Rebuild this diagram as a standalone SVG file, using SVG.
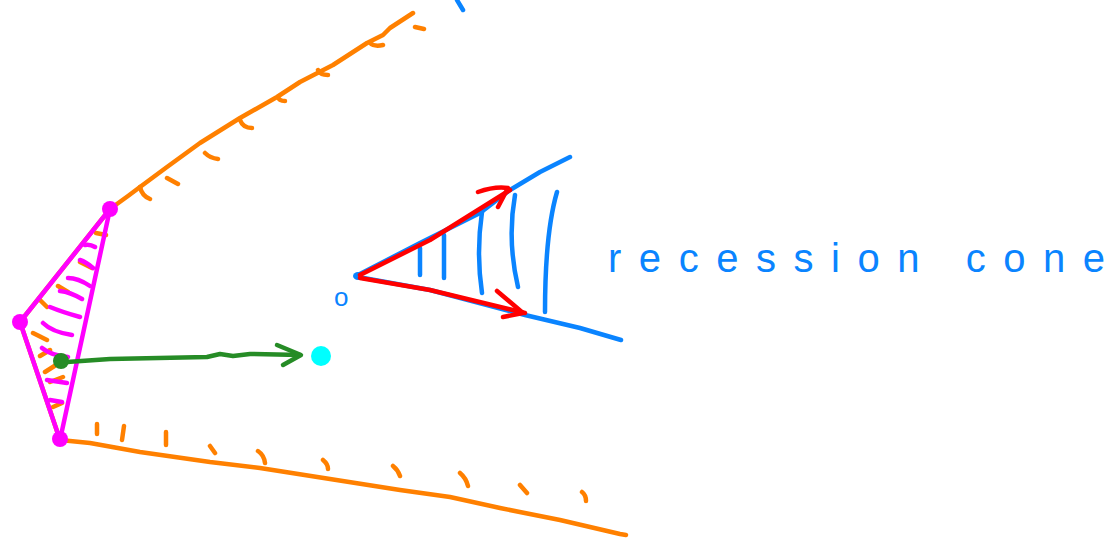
<svg xmlns="http://www.w3.org/2000/svg" width="1120" height="543" viewBox="0 0 1120 543">
<defs>
<style>
.s{fill:none;stroke-width:4.5;stroke-linecap:round;stroke-linejoin:round}
.or{stroke:#ff8000}
.mg{stroke:#ff00ff}
.bl{stroke:#0a84ff}
.rd{stroke:#ff0000}
.gr{stroke:#268c26}
.lbl{font-family:"Liberation Sans",Arial,sans-serif;fill:#0a84ff}
</style>
</defs>
<rect width="1120" height="543" fill="#ffffff"/>
<g id="outer-cone">
<path class="s or" d="M110,209 L128,196 L140,187 L167,167 L200,143 L240,118 L277,97 L300,82 L333,65 L367,43 L383,35 L390,28 L413,13"/>
<path class="s or" d="M140,187 Q142,196 150,199 M167,178 L178,184 M205,153 Q210,158 218,159 M240,120 Q243,128 252,128 M278,97 Q279,101 285,101 M318,70 Q320,75 328,75 M370,43 Q374,47 383,45 M415,27 L424,29"/>
<path class="s or" d="M110,209 L20,322 L60,440"/>
<path class="s or" d="M60,440 L90,443 L140,452 L210,462 L260,468 L330,479 L400,490 L450,497 L500,508 L560,520 L620,534 L626,535"/>
<path class="s or" d="M97,424 L97,434 M124,426 L122,440 M166,432 L166,445 M210,446 L215,453 M258,451 Q264,455 265,463 M323,460 Q328,464 328,469 M393,466 Q398,470 400,476 M460,473 Q466,478 468,486 M520,485 L527,493 M582,492 Q586,495 586,501"/>
<path class="s or" d="M96,233 L106,235 M80,262 L92,268 M58,286 L68,292 M40,300 L47,307 M33,333 L47,340 M40,356 L50,350 M45,372 L56,365 M50,382 L63,377 M53,407 L62,403"/>
</g>
<g id="face-triangle">
<path class="s mg" d="M110,209 L20,322 L60,440 Z"/>
<path class="s mg" d="M85,245 Q90,244 95,247 M80,260 Q86,262 93,268 M68,278 Q78,278 90,286 M60,291 Q70,292 82,299 M50,307 Q62,312 80,317 M43,323 Q52,332 72,335 M42,348 Q50,355 68,357 M47,380 L67,383 M50,400 L62,402"/>
<circle cx="110" cy="209" r="8" fill="#ff00ff"/>
<circle cx="20" cy="322" r="8" fill="#ff00ff"/>
<circle cx="60" cy="439" r="8" fill="#ff00ff"/>
</g>
<g id="point-green">
<circle cx="61" cy="361" r="8" fill="#268c26"/>
</g>
<g id="point-cyan">
<circle cx="321" cy="356" r="10" fill="#00ffff"/>
</g>
<g id="recession-cone">
<path class="s bl" d="M358,275 L420,243 L480,213 L510,190 L540,172 L570,157"/>
<path class="s bl" d="M358,277 L430,290 L525,315 L580,328 L621,340"/>
<path class="s bl" d="M420,248 L420,275 M444,235 L444,278 M482,212 Q476,253 482,293 M515,195 Q507,240 518,287 M557,192 Q545,233 545,312"/>
<ellipse cx="358" cy="276" rx="5" ry="4" fill="#0a84ff"/>
<path class="s bl" d="M457,0 Q460,5 463,10"/>
<text class="lbl" x="334" y="306" font-size="26">o</text>
</g>
<g id="label">
<text class="lbl" x="608" y="272" font-size="40" textLength="497" lengthAdjust="spacing">recession cone</text>
</g>
<g id="connectors">
<path class="s gr" d="M67,362 L110,359 L207,357 L220,354 L233,356 L250,354 L300,355"/>
<path class="s gr" d="M277,345 L301,355 L283,365"/>
<path class="s rd" d="M360,275 L430,240 L510,190"/>
<path class="s rd" d="M478,192 Q495,186 508,188 L498,207"/>
<path class="s rd" d="M360,278 L430,290 L525,313"/>
<path class="s rd" d="M497,291 L523,313 L503,317"/>
</g>
</svg>
